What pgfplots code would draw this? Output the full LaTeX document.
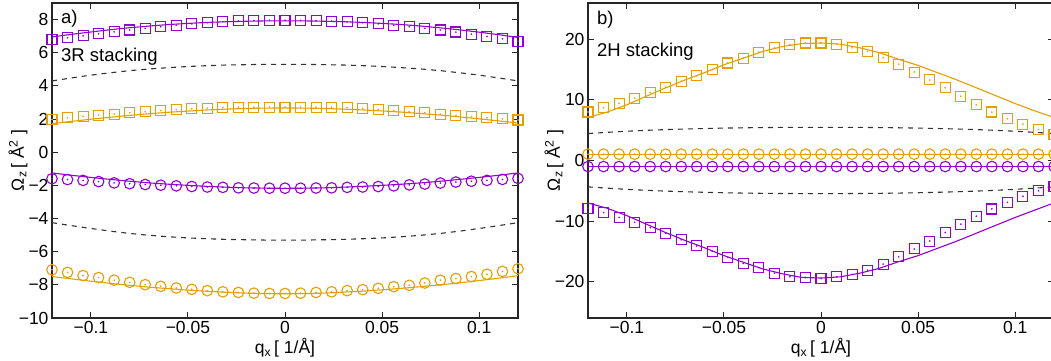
\documentclass[border=0pt]{standalone}
\usepackage{fontspec}
\setmainfont{Liberation Sans}
\usepackage{pgfplots}
\usepackage{pgfplotstable}
\pgfplotsset{compat=1.18}
\definecolor{cpur}{HTML}{9400D3}
\definecolor{corg}{HTML}{E69F00}
\tikzset{ann/.style={anchor=west, font=\fontsize{18.5}{22}\selectfont}}

% left panel: markers
\pgfplotstableread{
q ps os pc oc
-0.120 6.78 1.98 -1.60 -7.09
-0.112 6.90 2.08 -1.65 -7.25
-0.104 7.02 2.16 -1.70 -7.44
-0.096 7.14 2.24 -1.77 -7.56
-0.088 7.26 2.30 -1.85 -7.72
-0.080 7.37 2.38 -1.90 -7.85
-0.072 7.47 2.44 -1.95 -7.99
-0.064 7.57 2.52 -1.99 -8.09
-0.056 7.66 2.58 -2.03 -8.19
-0.048 7.74 2.62 -2.07 -8.27
-0.040 7.81 2.66 -2.10 -8.35
-0.032 7.87 2.70 -2.12 -8.42
-0.024 7.92 2.72 -2.15 -8.46
-0.016 7.95 2.72 -2.16 -8.50
-0.008 7.96 2.72 -2.17 -8.52
0.000 7.96 2.72 -2.17 -8.52
0.008 7.95 2.72 -2.17 -8.50
0.016 7.93 2.72 -2.16 -8.46
0.024 7.90 2.72 -2.15 -8.42
0.032 7.86 2.69 -2.12 -8.35
0.040 7.81 2.64 -2.10 -8.29
0.048 7.74 2.56 -2.07 -8.21
0.056 7.66 2.50 -2.03 -8.11
0.064 7.57 2.44 -1.97 -8.03
0.072 7.47 2.38 -1.92 -7.89
0.080 7.37 2.30 -1.86 -7.72
0.088 7.25 2.22 -1.80 -7.62
0.096 7.12 2.14 -1.75 -7.50
0.104 6.98 2.08 -1.70 -7.36
0.112 6.84 2.02 -1.64 -7.19
0.120 6.70 1.94 -1.58 -7.03
}\leftmarks

% left panel: lines
\pgfplotstableread{
q pl ol pcl ocl da db
-0.12 6.95 1.72 -1.25 -7.50 4.30 -4.25
-0.11 7.11 1.86 -1.39 -7.64 4.48 -4.43
-0.10 7.25 1.99 -1.52 -7.78 4.65 -4.60
-0.09 7.39 2.11 -1.64 -7.91 4.79 -4.76
-0.08 7.51 2.22 -1.75 -8.03 4.92 -4.90
-0.07 7.61 2.32 -1.85 -8.14 5.02 -5.01
-0.06 7.70 2.41 -1.93 -8.23 5.10 -5.10
-0.05 7.77 2.48 -2.00 -8.32 5.17 -5.17
-0.04 7.83 2.55 -2.06 -8.39 5.22 -5.22
-0.03 7.87 2.60 -2.11 -8.45 5.26 -5.26
-0.02 7.90 2.64 -2.15 -8.50 5.28 -5.28
-0.01 7.92 2.66 -2.17 -8.53 5.30 -5.30
0.00 7.92 2.67 -2.18 -8.54 5.30 -5.30
0.01 7.92 2.66 -2.17 -8.53 5.30 -5.30
0.02 7.90 2.64 -2.15 -8.50 5.28 -5.28
0.03 7.87 2.60 -2.11 -8.44 5.26 -5.26
0.04 7.83 2.55 -2.06 -8.38 5.22 -5.22
0.05 7.77 2.49 -2.00 -8.30 5.17 -5.17
0.06 7.70 2.42 -1.93 -8.21 5.10 -5.10
0.07 7.61 2.33 -1.85 -8.11 5.02 -5.01
0.08 7.50 2.24 -1.75 -8.00 4.92 -4.90
0.09 7.38 2.13 -1.64 -7.88 4.79 -4.76
0.10 7.24 2.01 -1.52 -7.74 4.65 -4.60
0.11 7.09 1.89 -1.39 -7.60 4.48 -4.43
0.12 6.92 1.76 -1.25 -7.45 4.30 -4.25
}\leftlines

% right panel: markers
\pgfplotstableread{
q os ps oc pc
-0.120 8.00 -7.90 1.05 -1.00
-0.112 8.70 -8.60 1.05 -1.00
-0.104 9.45 -9.40 1.05 -1.00
-0.096 10.30 -10.20 1.05 -1.00
-0.088 11.20 -11.10 1.05 -1.00
-0.080 12.10 -12.00 1.05 -1.00
-0.072 13.10 -13.10 1.05 -1.00
-0.064 14.00 -14.10 1.05 -1.00
-0.056 15.00 -15.00 1.05 -1.00
-0.048 16.10 -16.00 1.05 -1.00
-0.040 16.90 -17.00 1.05 -1.00
-0.032 17.90 -17.70 1.05 -1.00
-0.024 18.60 -18.60 1.05 -1.00
-0.016 19.10 -19.20 1.05 -1.00
-0.008 19.40 -19.30 1.05 -1.00
0.000 19.40 -19.50 1.05 -1.00
0.008 19.20 -19.20 1.05 -1.00
0.016 18.60 -18.80 1.05 -1.00
0.024 18.00 -18.10 1.05 -1.00
0.032 17.00 -17.10 1.05 -1.00
0.040 15.90 -15.90 1.05 -1.00
0.048 14.60 -14.60 1.05 -1.00
0.056 13.30 -13.30 1.05 -1.00
0.064 12.00 -11.90 1.05 -1.00
0.072 10.60 -10.50 1.05 -1.00
0.080 9.20 -9.20 1.05 -1.00
0.088 8.00 -8.00 1.05 -1.00
0.096 6.90 -6.90 1.05 -1.00
0.104 6.00 -5.90 1.05 -1.00
0.112 5.10 -5.00 1.05 -1.00
0.120 4.30 -4.30 1.05 -1.00
}\rightmarks

% right panel: lines
\pgfplotstableread{
q ol pl da db ocl pcl
-0.12 7.1 -7.0 4.45 -4.35 1.05 -1.00
-0.11 8.0 -7.9 4.65 -4.57 1.05 -1.00
-0.10 9.2 -9.1 4.83 -4.76 1.05 -1.00
-0.09 10.6 -10.5 4.98 -4.92 1.05 -1.00
-0.08 12.0 -11.9 5.10 -5.05 1.05 -1.00
-0.07 13.3 -13.2 5.20 -5.16 1.05 -1.00
-0.06 14.5 -14.4 5.28 -5.25 1.05 -1.00
-0.05 15.8 -15.7 5.35 -5.32 1.05 -1.00
-0.04 16.9 -16.8 5.40 -5.38 1.05 -1.00
-0.03 18.0 -17.9 5.44 -5.42 1.05 -1.00
-0.02 18.8 -18.7 5.46 -5.45 1.05 -1.00
-0.01 19.3 -19.3 5.47 -5.46 1.05 -1.00
0.00 19.4 -19.4 5.47 -5.46 1.05 -1.00
0.01 19.2 -19.2 5.47 -5.46 1.05 -1.00
0.02 18.6 -18.6 5.46 -5.45 1.05 -1.00
0.03 17.8 -17.8 5.44 -5.42 1.05 -1.00
0.04 16.7 -16.7 5.40 -5.38 1.05 -1.00
0.05 15.7 -15.7 5.35 -5.32 1.05 -1.00
0.06 14.5 -14.5 5.28 -5.25 1.05 -1.00
0.07 13.3 -13.3 5.20 -5.16 1.05 -1.00
0.08 12.0 -12.0 5.10 -5.05 1.05 -1.00
0.09 10.7 -10.7 4.98 -4.92 1.05 -1.00
0.10 9.4 -9.4 4.83 -4.76 1.05 -1.00
0.11 8.2 -8.2 4.65 -4.57 1.05 -1.00
0.12 7.1 -7.0 4.45 -4.35 1.05 -1.00
}\rightlines

\begin{document}
\begin{tikzpicture}[font=\fontsize{17.5}{21}\selectfont]
\path[use as bounding box] (0,0) rectangle (1051pt,361pt);
\pgfplotsset{
  panel/.style={
    scale only axis,
    width=466pt, height=315pt,
    anchor=south west,
    xmin=-0.12, xmax=0.12,
    clip=false,
    axis line style={line width=1.4pt, black!85},
    tick style={line width=0.9pt, black!85},
    major tick length=6pt,
    tick align=inside,
    xtick={-0.1,-0.05,0,0.05,0.1},
    xticklabels={−0.1,−0.05,0,0.05,0.1},
    xlabel={q\textsubscript{x}\,[ 1/Å]},
    xlabel style={at={(axis description cs:0.5,-0.095)}, anchor=center},
    ylabel={Ω\textsubscript{z}\,[ Å\textsuperscript{2} ]},
    ylabel style={at={(axis description cs:-0.073,0.5)}, anchor=center, rotate=0},
    ticklabel style={font=\fontsize{17.5}{21}\selectfont},
    label style={font=\fontsize{17.5}{21}\selectfont},
  },
  sq/.style={only marks, mark=square, mark size=5pt, mark options={line width=1.1pt}},
  ci/.style={only marks, mark=o, mark size=5.3pt, mark options={line width=1.1pt}},
  dt/.style={only marks, mark=*, mark size=0.6pt},
  ln/.style={no marks, line width=1.1pt},
  ds/.style={no marks, line width=1.1pt, black!80, dash pattern=on 5pt off 5pt},
}
\begin{axis}[panel, at={(52pt,43pt)},
  ymin=-10, ymax=9,
  ytick={-10,-8,-6,-4,-2,0,2,4,6,8},
  yticklabels={−10,−8,−6,−4,−2,0,2,4,6,8},
]
\addplot[ln, cpur] table[x=q, y=pl] {\leftlines};
\addplot[ln, corg] table[x=q, y=ol] {\leftlines};
\addplot[ln, cpur] table[x=q, y=pcl] {\leftlines};
\addplot[ln, corg] table[x=q, y=ocl] {\leftlines};
\addplot[ds] table[x=q, y=da] {\leftlines};
\addplot[ds] table[x=q, y=db] {\leftlines};
\addplot[sq, cpur] table[x=q, y=ps] {\leftmarks};
\addplot[sq, corg] table[x=q, y=os] {\leftmarks};
\addplot[ci, cpur] table[x=q, y=pc] {\leftmarks};
\addplot[ci, corg] table[x=q, y=oc] {\leftmarks};
\addplot[dt, cpur] table[x=q, y=ps] {\leftmarks};
\addplot[dt, corg] table[x=q, y=os] {\leftmarks};
\addplot[dt, cpur] table[x=q, y=pc] {\leftmarks};
\addplot[dt, corg] table[x=q, y=oc] {\leftmarks};
\node[ann] at (axis description cs:0.012,0.949) {a)};
\node[ann] at (axis description cs:0.012,0.829) {3R stacking};
\end{axis}
\begin{axis}[panel, at={(588pt,43pt)},
  ymin=-26, ymax=26,
  ytick={-20,-10,0,10,20},
  yticklabels={−20,−10,0,10,20},
]
\addplot[ln, corg] table[x=q, y=ol] {\rightlines};
\addplot[ln, cpur] table[x=q, y=pl] {\rightlines};
\addplot[ln, corg] table[x=q, y=ocl] {\rightlines};
\addplot[ln, cpur] table[x=q, y=pcl] {\rightlines};
\addplot[ds] table[x=q, y=da] {\rightlines};
\addplot[ds] table[x=q, y=db] {\rightlines};
\addplot[sq, corg] table[x=q, y=os] {\rightmarks};
\addplot[sq, cpur] table[x=q, y=ps] {\rightmarks};
\addplot[ci, corg] table[x=q, y=oc] {\rightmarks};
\addplot[ci, cpur] table[x=q, y=pc] {\rightmarks};
\addplot[dt, corg] table[x=q, y=os] {\rightmarks};
\addplot[dt, cpur] table[x=q, y=ps] {\rightmarks};
\addplot[dt, corg] table[x=q, y=oc] {\rightmarks};
\addplot[dt, cpur] table[x=q, y=pc] {\rightmarks};
\node[ann] at (axis description cs:0.012,0.946) {b)};
\node[ann] at (axis description cs:0.012,0.844) {2H stacking};
\end{axis}
\end{tikzpicture}
\end{document}
